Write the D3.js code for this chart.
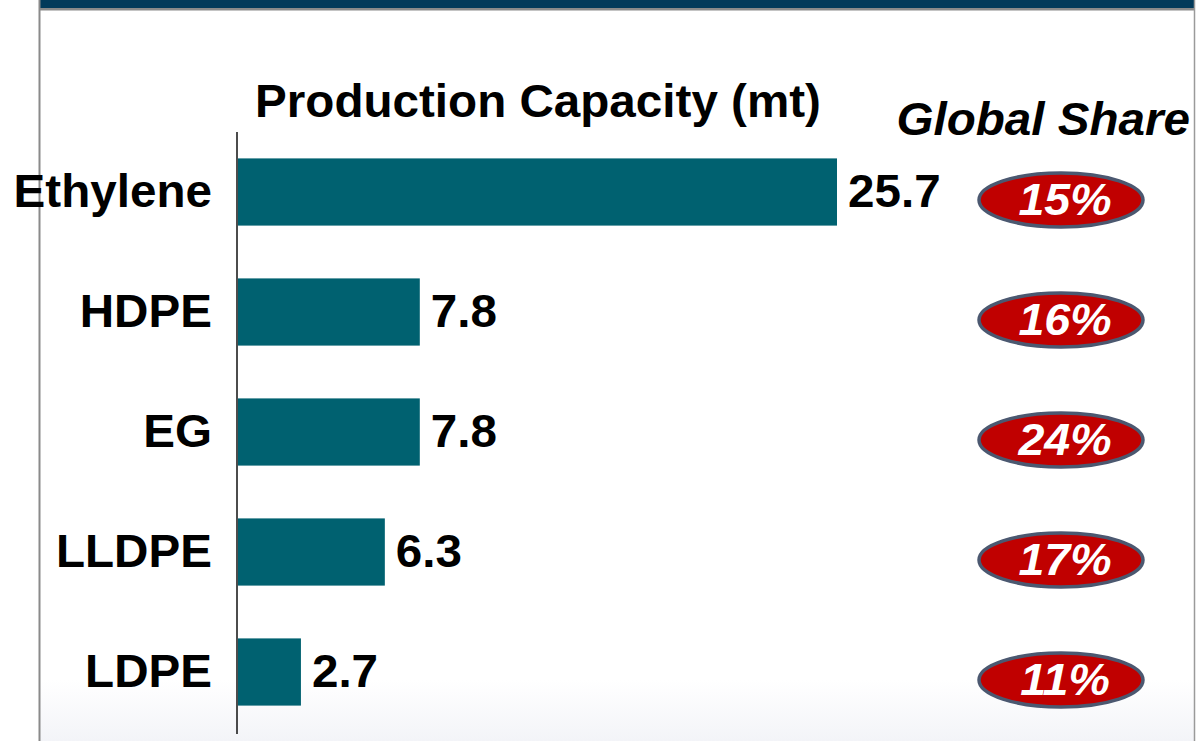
<!DOCTYPE html>
<html>
<head>
<meta charset="utf-8">
<script src="https://cdn.jsdelivr.net/npm/d3@7"></script>
<style>
  body { margin: 0; background: #fff; }
  svg { display: block; font-family: "Liberation Sans", Arial, sans-serif; }
</style>
</head>
<body>
<svg id="chart" width="1199" height="741"></svg>
<script>
const categories = ["Ethylene", "HDPE", "EG", "LLDPE", "LDPE"];
const capacity = [25.7, 7.8, 7.8, 6.3, 2.7];
const share = ["15%", "16%", "24%", "17%", "11%"];

const data = categories.map((c, i) => ({ name: c, value: capacity[i], share: share[i] }));

const svg = d3.select("#chart");
const W = 1199, H = 741;
const FS = 46;
const SX = 1.035; // slight horizontal stretch of the slide text

// faint grey fade at the bottom of the slide
const defs = svg.append("defs");
const grad = defs.append("linearGradient")
    .attr("id", "fade").attr("x1", 0).attr("y1", 0).attr("x2", 0).attr("y2", 1);
grad.append("stop").attr("offset", "0%").attr("stop-color", "#ffffff");
grad.append("stop").attr("offset", "100%").attr("stop-color", "#f3f4f8");
svg.append("rect").attr("x", 40).attr("y", 680).attr("width", 1154).attr("height", H - 680)
    .attr("fill", "url(#fade)");

// slide frame
svg.append("rect").attr("x", 40).attr("y", 0).attr("width", 1154).attr("height", 8).attr("fill", "#023a5a");
svg.append("rect").attr("x", 40).attr("y", 8).attr("width", 1154).attr("height", 2.5).attr("fill", "#8a8a8a");
svg.append("line").attr("x1", 39.5).attr("x2", 39.5).attr("y1", 0).attr("y2", H)
    .attr("stroke", "#8a8a8a").attr("stroke-width", 2);
svg.append("line").attr("x1", 1194.5).attr("x2", 1194.5).attr("y1", 0).attr("y2", H)
    .attr("stroke", "#9a9a9a").attr("stroke-width", 1.5);

const x = d3.scaleLinear().domain([0, 25.7]).range([238, 837]);
const y = d3.scaleBand().domain(categories).range([132, 732]).paddingInner(0.44).paddingOuter(0.22);

svg.append("g").selectAll("rect")
    .data(data)
    .join("rect")
    .attr("x", x(0))
    .attr("y", d => y(d.name))
    .attr("width", d => x(d.value) - x(0))
    .attr("height", y.bandwidth())
    .attr("fill", "#006170");

// axis line
svg.append("line").attr("x1", 237).attr("x2", 237).attr("y1", 132).attr("y2", 734)
    .attr("stroke", "#111").attr("stroke-width", 1.5);

function wide(sel, px, py) {
    return sel.attr("transform", (d, i) => `translate(${px(d, i)},${py(d, i)}) scale(${SX},1)`);
}

wide(svg.append("g").selectAll("text").data(data).join("text"),
        () => 212, d => y(d.name) + y.bandwidth() / 2 + 15)
    .attr("text-anchor", "end")
    .attr("font-size", FS)
    .attr("font-weight", "bold")
    .text(d => d.name);

wide(svg.append("g").selectAll("text").data(data).join("text"),
        d => x(d.value) + 11, d => y(d.name) + y.bandwidth() / 2 + 15)
    .attr("font-size", FS)
    .attr("font-weight", "bold")
    .text(d => d.value.toFixed(1));

wide(svg.append("text").datum(0), () => 538, () => 117)
    .attr("text-anchor", "middle")
    .attr("font-size", FS)
    .attr("font-weight", "bold")
    .text("Production Capacity (mt)");

wide(svg.append("text").datum(0), () => 1190, () => 135)
    .attr("text-anchor", "end")
    .attr("font-size", FS)
    .attr("font-weight", "bold")
    .attr("font-style", "italic")
    .text("Global Share");

const pill = svg.append("g").selectAll("g")
    .data(data)
    .join("g")
    .attr("transform", d => `translate(1061,${y(d.name) + y.bandwidth() / 2 + 8})`);

pill.append("ellipse")
    .attr("rx", 82).attr("ry", 27)
    .attr("fill", "#c00000")
    .attr("stroke", "#4b5870")
    .attr("stroke-width", 3.5);

pill.append("text")
    .attr("transform", `translate(4,15) scale(${SX},1)`)
    .attr("text-anchor", "middle")
    .attr("font-size", 45)
    .attr("font-weight", "bold")
    .attr("font-style", "italic")
    .attr("fill", "#fff")
    .text(d => d.share);
</script>
</body>
</html>
